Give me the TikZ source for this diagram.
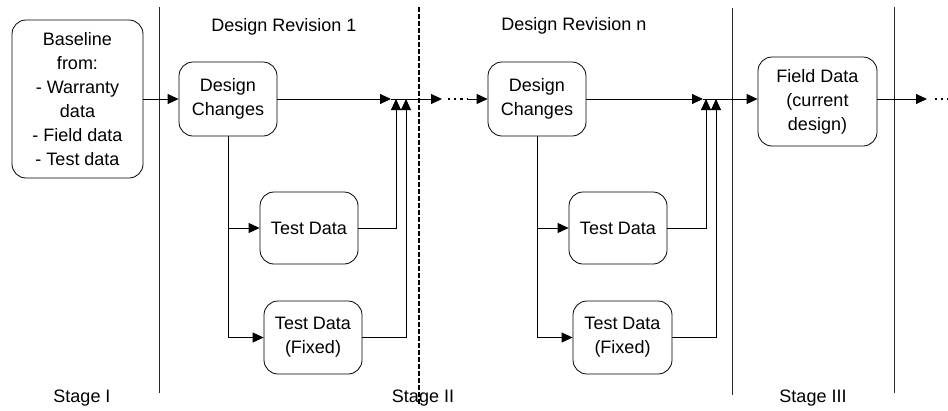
\documentclass[tikz,border=0pt]{standalone}
\usepackage{fontspec}
\setmainfont{Liberation Sans}
\usetikzlibrary{arrows.meta}
\begin{document}
\begin{tikzpicture}[x=1pt,y=-1pt,
  box/.style={draw,rounded corners=14pt,align=center,inner sep=0pt,
    font=\fontsize{18}{24}\selectfont,line width=0.8pt},
  lbl/.style={font=\fontsize{18}{24}\selectfont},
  conn/.style={line width=0.9pt,-{Triangle[length=11pt,width=10pt]}},
  plain/.style={line width=0.9pt},
  sep/.style={line width=0.8pt,black!85},
  dashsep/.style={line width=1.3pt,dash pattern=on 4.5pt off 2.5pt},
  dotrun/.style={line width=2.2pt,dash pattern=on 2.2pt off 4pt},
]
\useasboundingbox (0,0) rectangle (948,410);

% stage separators
\coordinate (s1t) at (159,7);   \coordinate (s1b) at (159,393);
\coordinate (s2t) at (419,7);   \coordinate (s2b) at (419,405);
\coordinate (s3t) at (732,8);   \coordinate (s3b) at (732,395);
\coordinate (s4t) at (894,7);   \coordinate (s4b) at (894,393);
\draw[sep] (s1t) -- (s1b);
\draw[dashsep] (s2t) -- (s2b);
\draw[sep] (s3t) -- (s3b);
\draw[sep] (s4t) -- (s4b);

% headings and stage labels
\node[lbl] (rev1) at (284,27) {Design Revision 1};
\node[lbl] (revn) at (574,26) {Design Revision n};
\node[lbl] (st1) at (82,398) {Stage I};
\node[lbl] (st2) at (423,398) {Stage II};
\node[lbl] (st3) at (813,398) {Stage III};

% boxes
\node[box,minimum width=131pt,minimum height=158pt] (base) at (77.5,99)
  {Baseline\\from:\\- Warranty\\data\\- Field data\\- Test data};
\node[box,minimum width=98pt,minimum height=74pt] (dc1) at (228,99) {Design\\Changes};
\node[box,minimum width=98pt,minimum height=72pt] (td1) at (309,228) {Test Data};
\node[box,minimum width=98pt,minimum height=73pt] (tf1) at (313,337.5) {Test Data\\(Fixed)};
\node[box,minimum width=98pt,minimum height=74pt] (dcn) at (537,99) {Design\\Changes};
\node[box,minimum width=98pt,minimum height=72pt] (tdn) at (618,228) {Test Data};
\node[box,minimum width=99pt,minimum height=73pt] (tfn) at (622.5,337.5) {Test Data\\(Fixed)};
\node[box,minimum width=119pt,minimum height=89pt] (fd) at (817.5,101.5)
  {Field Data\\(current\\design)};

% junction points and dotted continuations
\coordinate (j1) at (391,99);
\coordinate (u1a) at (396,99);
\coordinate (u1b) at (406,99);
\coordinate (d1) at (442,99);
\coordinate (d1s) at (448,99);
\coordinate (d1e) at (467,99);
\coordinate (jn) at (703,99);
\coordinate (una) at (706,99);
\coordinate (unb) at (716,99);
\coordinate (e1) at (927,99);
\coordinate (e1s) at (935,99);
\coordinate (e1e) at (948,99);

% revision 1 flow
\draw[conn] (base) -- (dc1);
\draw[conn] (dc1) -- (j1);
\draw[conn] (dc1.south) |- (td1.west);
\draw[conn] (dc1.south) |- (tf1.west);
\draw[conn] (td1.east) -| (u1a);
\draw[conn] (tf1.east) -| (u1b);
\draw[conn] (j1) -- (d1);
\draw[dotrun] (d1s) -- (d1e);
\draw[conn] (d1e) -- (dcn.west |- d1e);

% revision n flow
\draw[conn] (dcn) -- (jn);
\draw[conn] (dcn.south) |- (tdn.west);
\draw[conn] (dcn.south) |- (tfn.west);
\draw[conn] (tdn.east) -| (una);
\draw[conn] (tfn.east) -| (unb);
\draw[conn] (jn) -- (fd.west |- jn);

% field data onward
\draw[conn] (fd.east |- e1) -- (e1);
\draw[dotrun] (e1s) -- (e1e);
\end{tikzpicture}
\end{document}
